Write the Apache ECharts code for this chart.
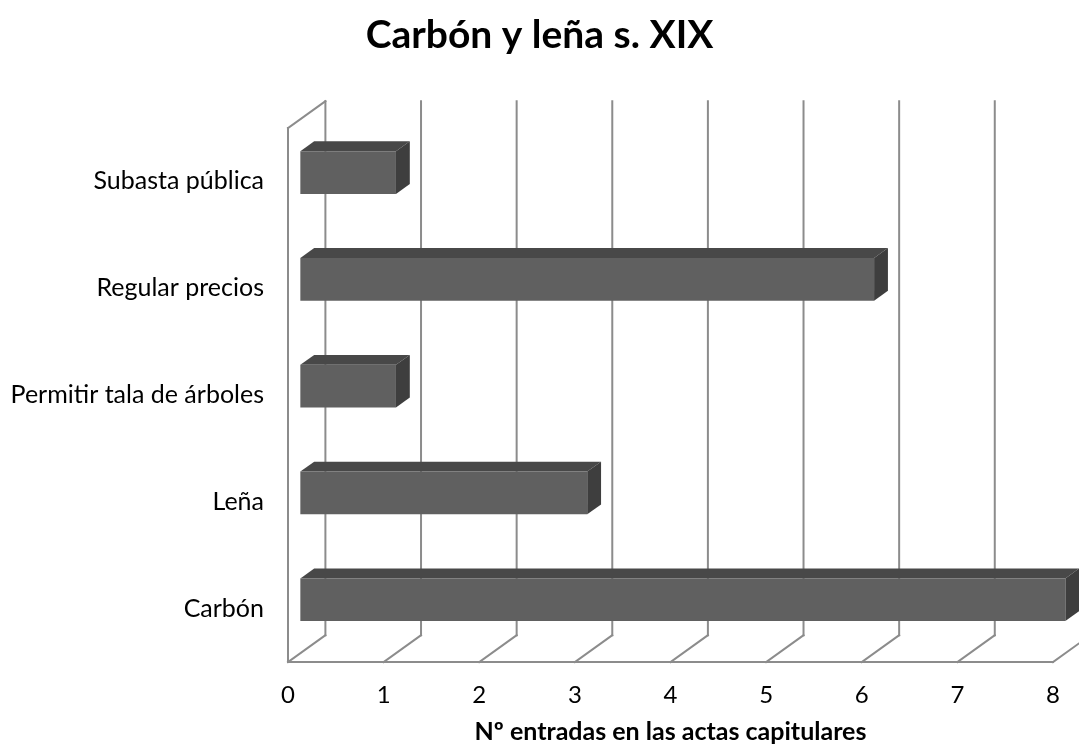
<!DOCTYPE html>
<html>
<head>
<meta charset="utf-8">
<script src="https://cdn.jsdelivr.net/npm/echarts@6/dist/echarts.min.js"></script>
<style>
  html, body { margin: 0; padding: 0; background: #ffffff; }
  #chart { width: 1079px; height: 749px; }
</style>
</head>
<body>
<div id="chart"></div>
<script>
// Categories listed bottom to top, as the category axis stacks them
const categories = ['Carbón', 'Leña', 'Permitir tala de árboles', 'Regular precios', 'Subasta pública'];
const entries = [8, 3, 1, 6, 1];
const xTicks = [0, 1, 2, 3, 4, 5, 6, 7, 8];

const titleText = 'Carbón y leña s. XIX';
const xAxisTitle = 'Nº entradas en las actas capitulares';

// Oblique depth of the pseudo-3D box (pixels from front plane to back wall)
const DX = 37.4, DY = -26.8;
// Bars sit between these fractions of the depth
const F1 = 0.33, F2 = 0.70;
const WALL = '#8c8c8c';

const chart = echarts.init(document.getElementById('chart'), null, { renderer: 'canvas' });

function line(x1, y1, x2, y2) {
  return {
    type: 'line',
    shape: { x1: x1, y1: y1, x2: x2, y2: y2 },
    style: { stroke: WALL, lineWidth: 2, lineCap: 'square' }
  };
}

function renderWalls(params, api) {
  const cs = params.coordSys;
  const top = cs.y, bottom = cs.y + cs.height;
  const x0 = api.coord([xTicks[0], 0])[0];
  const xEnd = api.coord([xTicks[xTicks.length - 1], 0])[0];
  const children = [];
  // left wall
  children.push(line(x0, top, x0, bottom));
  children.push(line(x0, top, x0 + DX, top + DY));
  // back wall gridlines and floor diagonals
  xTicks.forEach(function (k) {
    const xk = api.coord([k, 0])[0];
    children.push(line(xk + DX, top + DY, xk + DX, bottom + DY));
    children.push(line(xk, bottom, xk + DX, bottom + DY));
  });
  // floor front edge
  children.push(line(x0, bottom, xEnd, bottom));
  return { type: 'group', children: children };
}

function renderBar(params, api) {
  const v = api.value(0);
  const c = api.value(1);
  const p0 = api.coord([0, c]);
  const p1 = api.coord([v, c]);
  const band = api.size([0, 1])[1];
  const h = band * 0.4;
  const fx = DX * F1, fy = DY * F1;
  const dx = DX * (F2 - F1), dy = DY * (F2 - F1);
  const xL = p0[0] + fx, xR = p1[0] + fx;
  const yT = p0[1] + fy - h / 2, yB = yT + h;
  return {
    type: 'group',
    children: [
      { type: 'polygon', shape: { points: [[xL, yT], [xR, yT], [xR + dx, yT + dy], [xL + dx, yT + dy]] },
        style: { fill: '#484848' } },
      { type: 'polygon', shape: { points: [[xR, yT], [xR + dx, yT + dy], [xR + dx, yB + dy], [xR, yB]] },
        style: { fill: '#3e3e3e' } },
      { type: 'rect', shape: { x: xL, y: yT, width: xR - xL, height: h },
        style: { fill: '#606060' } }
    ]
  };
}

const option = {
  backgroundColor: '#ffffff',
  animation: false,
  title: {
    text: titleText,
    left: 'center',
    top: 11,
    textStyle: { fontFamily: 'Lato', fontWeight: 'bold', fontSize: 39, color: '#000000' }
  },
  grid: { left: 288, top: 128, width: 765, height: 534 },
  xAxis: {
    type: 'value',
    min: 0,
    max: 8,
    interval: 1,
    name: xAxisTitle,
    nameLocation: 'middle',
    nameGap: 57,
    nameTextStyle: { fontFamily: 'Lato', fontWeight: 'bold', fontSize: 25, color: '#000000' },
    axisLine: { show: false },
    axisTick: { show: false },
    splitLine: { show: false },
    axisLabel: { margin: 21, fontFamily: 'Lato', fontSize: 24, color: '#000000' }
  },
  yAxis: {
    type: 'category',
    data: categories,
    axisLine: { show: false },
    axisTick: { show: false },
    splitLine: { show: false },
    axisLabel: { margin: 24, fontFamily: 'Lato', fontSize: 25, color: '#000000', padding: [10, 0, 0, 0] }
  },
  series: [
    {
      type: 'custom',
      name: 'walls',
      renderItem: renderWalls,
      data: [[0, 0]],
      encode: { x: 0, y: 1 },
      clip: false,
      silent: true,
      z: 1
    },
    {
      type: 'custom',
      name: 'entries',
      renderItem: renderBar,
      data: entries.map(function (v, i) { return [v, i]; }),
      encode: { x: 0, y: 1 },
      clip: false,
      z: 2
    }
  ]
};

chart.setOption(option);
</script>
</body>
</html>
